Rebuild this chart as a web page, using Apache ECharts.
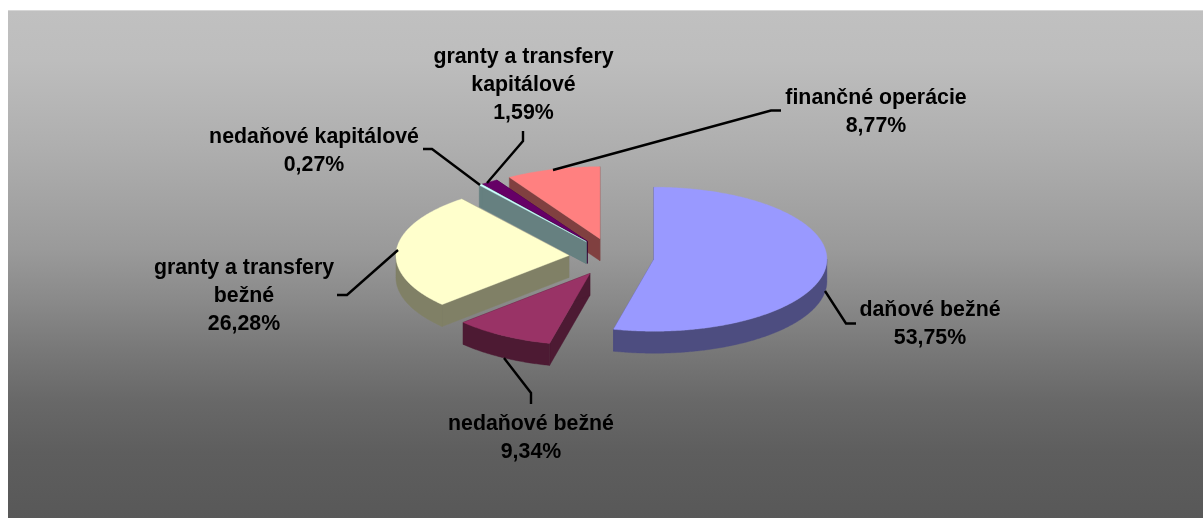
<!DOCTYPE html>
<html>
<head>
<meta charset="utf-8">
<style>html,body{margin:0;padding:0;background:#fff}#c{width:1203px;height:518px}</style>
<script src="https://cdn.jsdelivr.net/npm/echarts@6/dist/echarts.min.js"></script>
</head>
<body>
<div id="c"></div>
<script>
var categories = [
  ['daňové bežné'],
  ['nedaňové bežné'],
  ['granty a transfery', 'bežné'],
  ['nedaňové kapitálové'],
  ['granty a transfery', 'kapitálové'],
  ['finančné operácie']
];
var shares = [53.75, 9.34, 26.28, 0.27, 1.59, 8.77];
var shareLabels = ['53,75%', '9,34%', '26,28%', '0,27%', '1,59%', '8,77%'];

var topColors = ['#9999ff', '#993366', '#ffffcc', '#ccffff', '#660066', '#ff8080'];
var sideColors = ['#4d4d80', '#4d1a33', '#808066', '#668080', '#330033', '#804040'];

// pie projection
var PIE = { cx: 611.5, cy: 257, rx: 173, ry: 72, depth: 22, explodeX: 42.7, explodeY: 19 };
// the two thin slices sit almost on one another: nudge the bearing of their explosion (radians)
var bearingNudge = [0, 0, 0, 0.03, 0, 0];

// label placement: centre x, first-line centre y
var labelAnchor = [[930, 310], [531, 424], [244, 268], [314, 137], [523.5, 57], [876, 98]];
var LINE_H = 28;
// leader lines
var leaders = [
  [[825, 291], [846, 323.5], [856, 323.5]],
  [[504, 358], [531, 393], [531, 404]],
  [[398, 250], [347, 295], [337, 295]],
  [[480, 185], [432, 149], [423, 149]],
  [[487, 183], [523, 141], [523, 131]],
  [[553, 170], [771, 110.5], [781, 110.5]]
];

var total = shares.reduce(function (a, b) { return a + b; }, 0);
var TAU = Math.PI * 2;
function startAngle(i) {
  var s = 0;
  for (var k = 0; k < i; k++) s += shares[k];
  return s / total * TAU;
}
function pt(o, a, dy) {
  return [o[0] + Math.sin(a) * PIE.rx, o[1] - Math.cos(a) * PIE.ry + (dy || 0)];
}
function arc(o, a0, a1, dy) {
  var n = Math.max(2, Math.ceil((a1 - a0) / 0.01)), r = [];
  for (var i = 0; i <= n; i++) r.push(pt(o, a0 + (a1 - a0) * i / n, dy));
  return r;
}
function poly(points, fill) {
  return { type: 'polygon', shape: { points: points }, silent: true,
    style: { fill: fill, stroke: fill, lineWidth: 0.4 } };
}

function renderSlice(params, api) {
  var i = api.value(1);
  var a0 = startAngle(i);
  var a1 = a0 + api.value(0) / total * TAU;
  var mid = (a0 + a1) / 2 + bearingNudge[i];
  var o = [PIE.cx + Math.sin(mid) * PIE.explodeX, PIE.cy - Math.cos(mid) * PIE.explodeY];
  var d = PIE.depth, kids = [];
  var side = sideColors[i];
  [a0, a1].forEach(function (a) {
    var p = pt(o, a);
    kids.push(poly([o, p, [p[0], p[1] + d], [o[0], o[1] + d]], side));
  });
  var w0 = Math.max(a0, Math.PI / 2), w1 = Math.min(a1, Math.PI * 1.5);
  if (w1 > w0) {
    kids.push(poly(arc(o, w0, w1, 0).concat(arc(o, w0, w1, d).reverse()), side));
  }
  kids.push(poly([o].concat(arc(o, a0, a1, 0)), topColors[i]));
  return { type: 'group', children: kids };
}

function renderLabel(params, api) {
  var i = api.value(0);
  var lines = categories[i].concat([shareLabels[i]]);
  var kids = [{
    type: 'polyline', silent: true, shape: { points: leaders[i] },
    style: { fill: null, stroke: '#000', lineWidth: 2.4 }
  }];
  lines.forEach(function (t, k) {
    kids.push({
      type: 'text', silent: true,
      style: {
        text: t, x: labelAnchor[i][0], y: labelAnchor[i][1] + k * LINE_H,
        align: 'center', verticalAlign: 'middle',
        font: 'bold 21.33px "Liberation Sans", Arial, sans-serif', fill: '#000'
      }
    });
  });
  return { type: 'group', children: kids };
}

var chart = echarts.init(document.getElementById('c'), null, { renderer: 'canvas' });
chart.setOption({
  animation: false,
  backgroundColor: '#ffffff',
  graphic: [{
    type: 'rect', z: 0, silent: true,
    shape: { x: 8, y: 10, width: 1195, height: 508 },
    style: { fill: new echarts.graphic.LinearGradient(0, 0, 0, 1, [
      { offset: 0, color: '#c0c0c0' },
      { offset: 0.1, color: '#bdbdbd' },
      { offset: 0.275, color: '#aeaeae' },
      { offset: 0.47, color: '#9a9a9a' },
      { offset: 0.57, color: '#8a8a8a' },
      { offset: 0.67, color: '#787878' },
      { offset: 0.77, color: '#686868' },
      { offset: 0.87, color: '#5e5e5e' },
      { offset: 1, color: '#585858' }
    ]) }
  }, {
    type: 'rect', z: 1, silent: true,
    shape: { x: 8, y: 10, width: 1195, height: 1 },
    style: { fill: '#d6d6d6' }
  }],
  series: [{
    type: 'custom', coordinateSystem: 'none', z: 2, silent: true,
    renderItem: renderSlice,
    // painted back to front
    data: shares.map(function (v, i) { return [v, i]; }).reverse()
  }, {
    type: 'custom', coordinateSystem: 'none', z: 3, silent: true,
    renderItem: renderLabel,
    data: shares.map(function (v, i) { return [i]; })
  }]
});
</script>
</body>
</html>
